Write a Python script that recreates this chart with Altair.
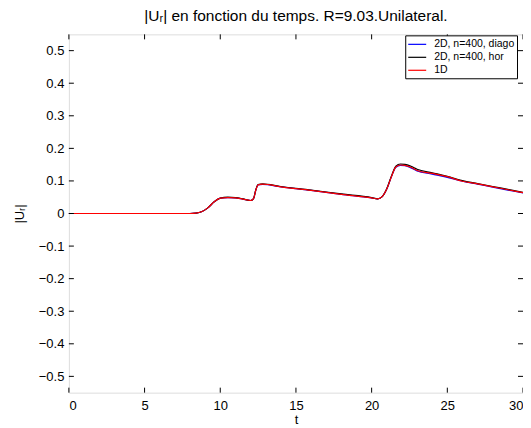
import altair as alt
import pandas as pd

# ---- data ----
t = [0, 8.0, 8.4, 8.8, 9.2, 9.6, 10.0, 10.5, 11.0, 11.5, 12.0, 12.2, 12.35, 12.5, 12.8,
     14, 16, 18, 20.0, 20.4, 20.7, 21.0, 21.3, 21.6, 21.9, 22.2, 22.6, 23.0,
     24, 25, 26, 27, 28, 29, 30]
u_diago = [0, 0, 0.001, 0.006, 0.018, 0.036, 0.047, 0.049, 0.048, 0.044, 0.040, 0.046, 0.072, 0.088, 0.089,
           0.082, 0.071, 0.059, 0.048, 0.045, 0.052, 0.075, 0.112, 0.142, 0.148, 0.147, 0.140, 0.131,
           0.121, 0.111, 0.099, 0.090, 0.081, 0.072, 0.063]
u_hor = [0, 0, 0.001, 0.006, 0.018, 0.036, 0.047, 0.050, 0.049, 0.045, 0.040, 0.046, 0.073, 0.089, 0.091,
         0.083, 0.072, 0.060, 0.049, 0.045, 0.052, 0.076, 0.114, 0.145, 0.152, 0.151, 0.145, 0.136,
         0.125, 0.114, 0.101, 0.092, 0.083, 0.074, 0.065]
u_1d = [0, 0, 0.001, 0.006, 0.018, 0.036, 0.047, 0.049, 0.048, 0.044, 0.040, 0.046, 0.072, 0.088, 0.090,
        0.082, 0.071, 0.059, 0.048, 0.045, 0.052, 0.075, 0.112, 0.143, 0.149, 0.148, 0.142, 0.132,
        0.123, 0.113, 0.099, 0.091, 0.082, 0.073, 0.064]

series_names = ["2D, n=400, diago", "2D, n=400, hor", "1D"]
series_colors = ["#0000ff", "#000000", "#ff0000"]
x_ticks = [0, 5, 10, 15, 20, 25, 30]
y_ticks = [-0.5, -0.4, -0.3, -0.2, -0.1, 0, 0.1, 0.2, 0.3, 0.4, 0.5]

rows = []
for name, vals in zip(series_names, [u_diago, u_hor, u_1d]):
    for ti, ui in zip(t, vals):
        rows.append({"t": ti, "U": ui, "series": name})
df = pd.DataFrame(rows)

W, H = 455, 359
FONT = "Liberation Sans"

xscale = alt.Scale(domain=[0, 30], nice=False, zero=False)
yscale = alt.Scale(domain=[-0.55, 0.55], nice=False, zero=False)
cscale = alt.Scale(domain=series_names, range=series_colors)

x_axis = alt.Axis(values=x_ticks, format="d", tickSize=0, domain=False, grid=False,
                  labelPadding=7, title="t", titlePadding=1, labelFontSize=13,
                  titleFontSize=13, titleFontWeight="normal", labelColor="black",
                  titleColor="black", labelFont=FONT, titleFont=FONT)
y_axis = alt.Axis(values=y_ticks, format=".1~f", tickSize=0, domain=False, grid=False,
                  labelPadding=5, title="|Uᵣ|", titlePadding=12, labelFontSize=13,
                  titleFontSize=13, titleFontWeight="normal", labelColor="black",
                  titleColor="black", labelFont=FONT, titleFont=FONT)

legend = alt.Legend(title=None, orient="none", legendX=337, legendY=1,
                    strokeColor="black", fillColor="white", padding=2, cornerRadius=0,
                    symbolType="M-1,0H2", symbolSize=144, symbolStrokeWidth=1.2,
                    symbolFillColor="transparent",
                    labelFontSize=10.5, labelFont=FONT, labelColor="black",
                    labelOffset=13, rowPadding=0)

layers = []
for i, name in enumerate(series_names):
    layers.append(
        alt.Chart(df).transform_filter(alt.datum.series == name)
        .mark_line(strokeWidth=1.2, interpolate="monotone")
        .encode(
            x=alt.X("t:Q", scale=xscale, axis=x_axis),
            y=alt.Y("U:Q", scale=yscale, axis=y_axis),
            color=alt.Color("series:N", scale=cscale, legend=legend),
        )
    )

xt = pd.DataFrame({"xt": x_ticks})
yt = pd.DataFrame({"yt": y_ticks})
tick_bottom = alt.Chart(xt).mark_rule(color="black", strokeWidth=1).encode(
    x=alt.X("xt:Q", scale=xscale, axis=x_axis), y=alt.value(H), y2=alt.value(H - 5))
tick_top = alt.Chart(xt).mark_rule(color="black", strokeWidth=1).encode(
    x=alt.X("xt:Q", scale=xscale, axis=x_axis), y=alt.value(0), y2=alt.value(5))
tick_left = alt.Chart(yt).mark_rule(color="black", strokeWidth=1).encode(
    y=alt.Y("yt:Q", scale=yscale, axis=y_axis), x=alt.value(0), x2=alt.value(5))
tick_right = alt.Chart(yt).mark_rule(color="black", strokeWidth=1).encode(
    y=alt.Y("yt:Q", scale=yscale, axis=y_axis), x=alt.value(W), x2=alt.value(W - 5))

chart = alt.layer(*layers, tick_bottom, tick_top, tick_left, tick_right).properties(
    width=W, height=H,
    title=alt.TitleParams("|Uᵣ| en fonction du temps. R=9.03.Unilateral.",
                          fontSize=15.5, font=FONT, fontWeight="normal", color="black",
                          anchor="middle", offset=9),
    autosize="none",
    padding={"left": 61, "top": 26, "right": 0, "bottom": 35},
).configure_view(stroke="black", strokeWidth=1).configure(background="white")

chart.save("out.html", embed_options={"renderer": "svg", "actions": False})
